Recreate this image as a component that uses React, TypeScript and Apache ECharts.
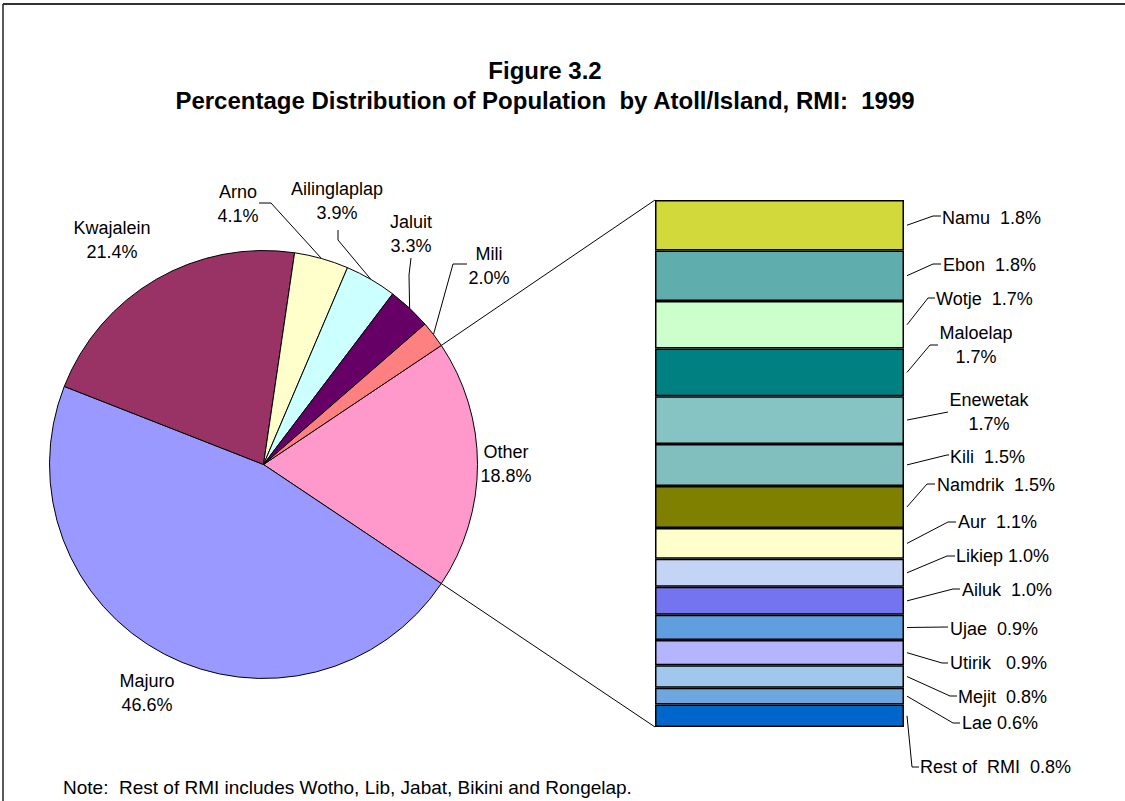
import React, { useEffect, useRef } from 'react';
import * as echarts from 'echarts';

// ---------- data ----------
const pieNames = ['Other', 'Majuro', 'Kwajalein', 'Arno', 'Ailinglaplap', 'Jaluit', 'Mili'];
const pieValues = [18.8, 46.6, 21.4, 4.1, 3.9, 3.3, 2.0];
const pieColors = ['#ff99cc', '#9999ff', '#993366', '#ffffcc', '#ccffff', '#660066', '#ff8080'];

const barNames = ['Namu', 'Ebon', 'Wotje', 'Maloelap', 'Enewetak', 'Kili', 'Namdrik', 'Aur', 'Likiep', 'Ailuk', 'Ujae', 'Utirik', 'Mejit', 'Lae', 'Rest of  RMI'];
const barValues = [1.8, 1.8, 1.7, 1.7, 1.7, 1.5, 1.5, 1.1, 1.0, 1.0, 0.9, 0.9, 0.8, 0.6, 0.8];
const barColors = ['#d2d93a', '#5fadad', '#ccffcc', '#008080', '#86c3c3', '#80bfbd', '#808000', '#ffffcc', '#c4d4f4', '#7474f0', '#5f9fe0', '#b4b4ff', '#a0c8ec', '#6ea6e0', '#0066cc'];
const barSeparators = ['  ', '  ', '  ', '\n', '\n', '  ', '  ', '  ', ' ', '  ', '  ', '   ', '  ', ' ', '  '];

const titleLines = ['Figure 3.2', 'Percentage Distribution of Population  by Atoll/Island, RMI:  1999'];
const noteText = 'Note:  Rest of RMI includes Wotho, Lib, Jabat, Bikini and Rongelap.';

// ---------- layout ----------
const FONT = 'Liberation Sans, Arial, Helvetica, sans-serif';
const PIE_CX = 263.5;
const PIE_CY = 464.5;
const PIE_R = 214;
const GRID_L = 655;
const GRID_T = 200;
const GRID_W = 249;
const GRID_H = 527;
const LABEL_SIZE = 18;

// label anchor (x, y) for pie labels (data order)
const pieLabelAt: number[][] = [[506, 464], [147, 693], [112, 240], [238, 204], [337, 201], [411, 234], [489, 266]];
// leader lines of pie labels: [elbow, end] or null
const pieLeader: (number[][] | null)[] = [null, null, null, [[271, 203], [259, 203]], [[338, 240], [338, 230]], [[409, 275], [411, 258]], [[453, 264], [467, 264]]];

// bar labels: anchor x, y, align
const barLabelAt: [number, number, string][] = [
  [942, 218, 'left'], [943, 265, 'left'], [936, 299, 'left'], [976, 345, 'center'], [989, 412, 'center'],
  [950, 457, 'left'], [937, 485, 'left'], [958, 522, 'left'], [956, 556, 'left'], [962, 590, 'left'],
  [950, 629, 'left'], [950, 663, 'left'], [958, 697, 'left'], [962, 723, 'left'], [920, 767, 'left'],
];
// bar leader lines: elbow point, end x
const barLeader: [number, number, number][] = [
  [933, 216, 941], [933, 264, 941], [928, 298, 935], [930, 345, 938], [948, 412, 948],
  [947, 455, 949], [927, 484, 935], [948, 522, 956], [947, 556, 955], [953, 589, 960],
  [948, 627, 948], [942, 663, 948], [950, 696, 957], [953, 723, 960], [912, 767, 919],
];

export default function App() {
  const ref = useRef<HTMLDivElement>(null);

  useEffect(() => {
    if (!ref.current) return;
    const chart = echarts.init(ref.current, null, { renderer: 'svg' });

    const pieTotal = pieValues.reduce((a, b) => a + b, 0);
    const barTotal = barValues.reduce((a, b) => a + b, 0);
    const startAngle = (pieValues[0] / pieTotal) * 360 / 2;

    const edgePoint = (deg: number) => {
      const r = (deg * Math.PI) / 180;
      return [PIE_CX + PIE_R * Math.cos(r), PIE_CY - PIE_R * Math.sin(r)];
    };
    const midAngles: number[] = [];
    let cum = 0;
    pieValues.forEach((v) => {
      midAngles.push(startAngle - ((cum + v / 2) / pieTotal) * 360);
      cum += v;
    });

    const pieSeries: any = {
      type: 'pie',
      center: [PIE_CX, PIE_CY],
      radius: PIE_R,
      startAngle,
      clockwise: true,
      avoidLabelOverlap: false,
      itemStyle: { borderColor: '#000', borderWidth: 1 },
      label: {
        show: true,
        position: 'outside',
        color: '#000',
        fontFamily: FONT,
        fontSize: LABEL_SIZE,
        lineHeight: 24,
        align: 'center',
        formatter: (p: any) => `${p.name}\n${pieValues[p.dataIndex].toFixed(1)}%`,
      },
      labelLine: { show: true, lineStyle: { color: '#000', width: 1 } },
      labelLayout: (params: any) => {
        const i = params.dataIndex;
        const res: any = { x: pieLabelAt[i][0], y: pieLabelAt[i][1], align: 'center', verticalAlign: 'middle' };
        const ld = pieLeader[i];
        if (ld) res.labelLinePoints = [edgePoint(midAngles[i]), ld[0], ld[1]];
        return res;
      },
      data: pieNames.map((n, i) => ({
        name: n,
        value: pieValues[i],
        itemStyle: { color: pieColors[i] },
        labelLine: { show: !!pieLeader[i] },
      })),
    };

    const barSeries: any[] = barNames.map((n, i) => ({
      type: 'bar',
      name: n,
      stack: 'rest',
      barWidth: '100%',
      data: [barValues[i]],
      itemStyle: { color: barColors[i], borderColor: '#000', borderWidth: 1.5 },
      label: {
        show: true,
        position: 'right',
        color: '#000',
        fontFamily: FONT,
        fontSize: LABEL_SIZE,
        lineHeight: 24,
        align: barLabelAt[i][2],
        formatter: () => `${n}${barSeparators[i]}${barValues[i].toFixed(1)}%`,
      },
      labelLayout: () => ({ x: barLabelAt[i][0], y: barLabelAt[i][1], align: barLabelAt[i][2], verticalAlign: 'middle' }),
    }));

    chart.setOption({
      animation: false,
      backgroundColor: '#fff',
      title: {
        text: titleLines.join('\n'),
        left: 540,
        top: 50,
        textAlign: 'center',
        textStyle: { fontFamily: FONT, fontSize: 24, fontWeight: 'bold', color: '#000', lineHeight: 30 },
      },
      grid: { left: GRID_L, top: GRID_T, width: GRID_W, height: GRID_H, containLabel: false },
      xAxis: { type: 'category', data: [''], show: false },
      yAxis: { type: 'value', min: 0, max: barTotal, inverse: true, show: false },
      series: [pieSeries, ...barSeries],
    });

    // leader lines for bar labels and pie-to-bar connectors, through the axis scale
    const graphics: any[] = [];
    let c = 0;
    const xRight = GRID_L + GRID_W;
    barValues.forEach((v, i) => {
      const y0 = chart.convertToPixel({ yAxisIndex: 0 }, c) as number;
      const y1 = chart.convertToPixel({ yAxisIndex: 0 }, c + v) as number;
      c += v;
      const mid = (y0 + y1) / 2;
      const [ex, ey, endX] = barLeader[i];
      graphics.push({
        type: 'polyline',
        shape: { points: [[xRight + 3, mid], [ex, ey], [endX, ey]] },
        style: { stroke: '#000', lineWidth: 1, fill: null },
        silent: true,
      });
    });
    const barTop = chart.convertToPixel({ yAxisIndex: 0 }, 0) as number;
    const barBottom = chart.convertToPixel({ yAxisIndex: 0 }, barTotal) as number;
    const upper = edgePoint(startAngle);
    const lower = edgePoint(startAngle - (pieValues[0] / pieTotal) * 360);
    graphics.push({ type: 'line', shape: { x1: upper[0], y1: upper[1], x2: GRID_L, y2: barTop }, style: { stroke: '#000', lineWidth: 1 }, silent: true });
    graphics.push({ type: 'line', shape: { x1: lower[0], y1: lower[1], x2: GRID_L, y2: barBottom }, style: { stroke: '#000', lineWidth: 1 }, silent: true });
    // chart frame: top and left edges
    graphics.push({ type: 'line', shape: { x1: 3, y1: 4, x2: 1125, y2: 4 }, style: { stroke: '#333', lineWidth: 2 }, silent: true });
    graphics.push({ type: 'line', shape: { x1: 3, y1: 4, x2: 3, y2: 801 }, style: { stroke: '#222', lineWidth: 1.5 }, silent: true });
    graphics.push({ type: 'text', x: 63, y: 787, style: { text: noteText, fontFamily: FONT, fontSize: 19, fill: '#000', verticalAlign: 'middle' }, silent: true });

    chart.setOption({ graphic: graphics });

    return () => chart.dispose();
  }, []);

  return <div ref={ref} style={{ position: 'absolute', left: 0, top: 0, width: 1125, height: 801 }} />;
}
